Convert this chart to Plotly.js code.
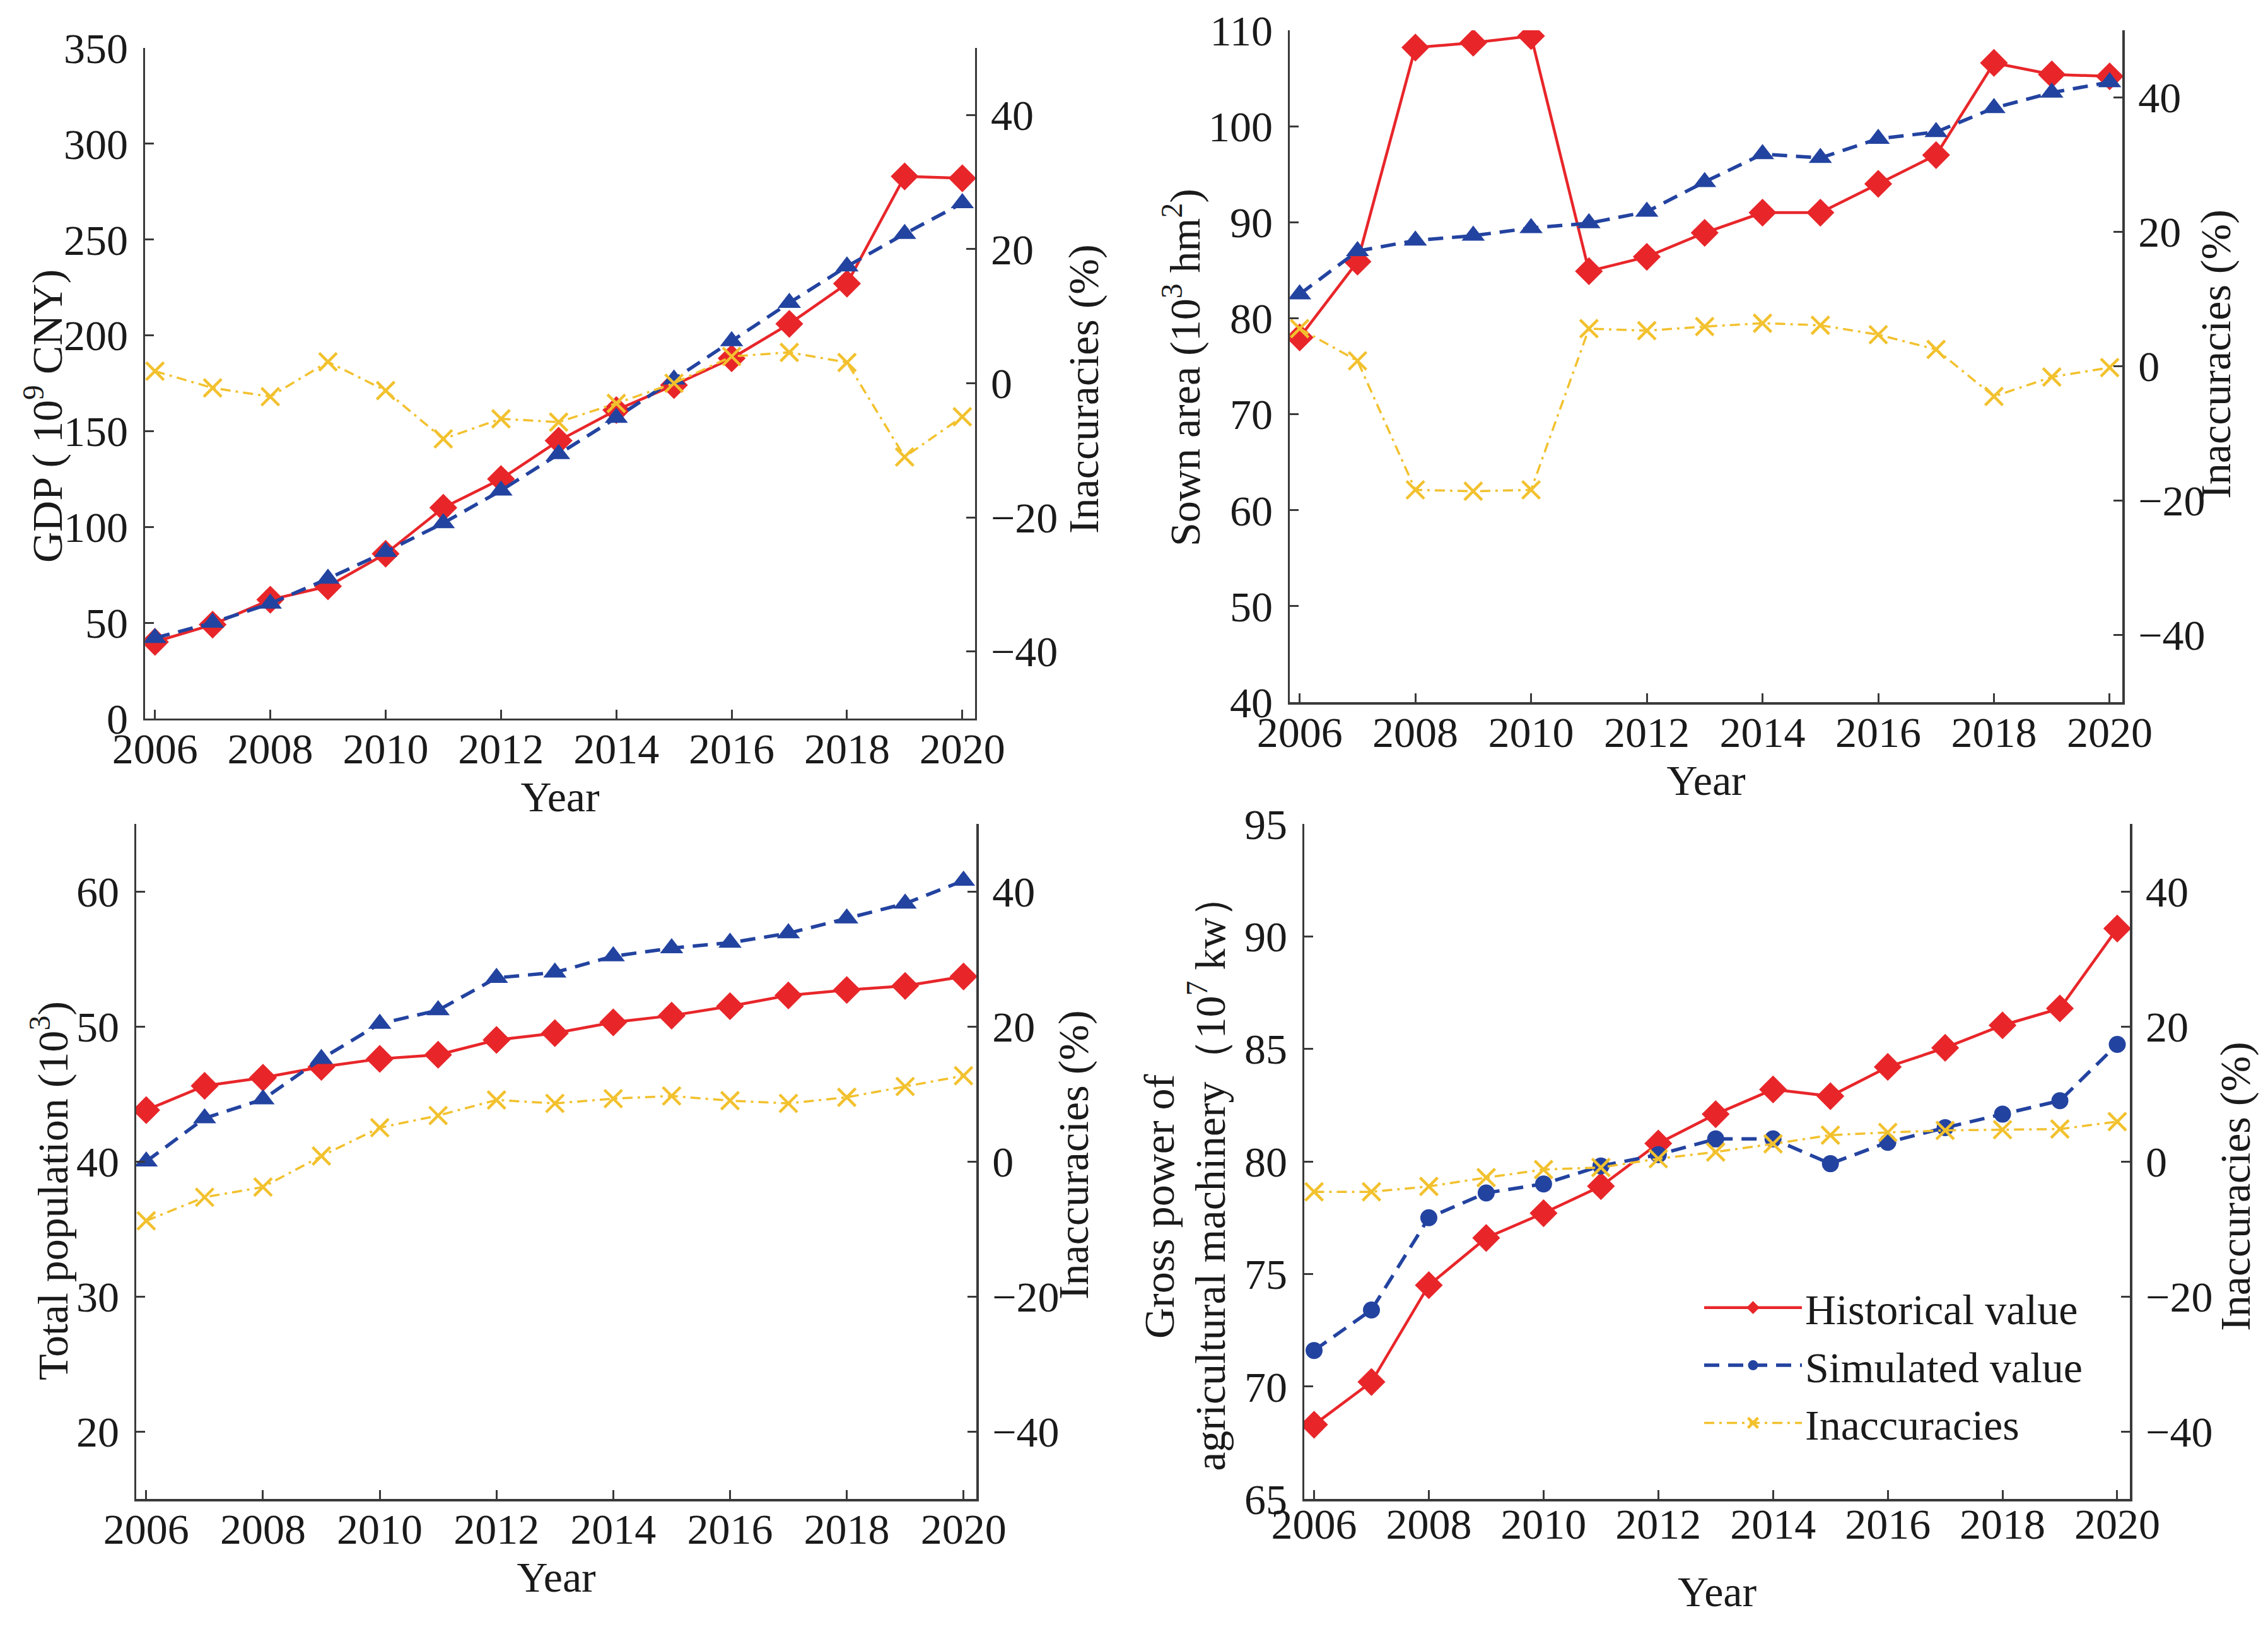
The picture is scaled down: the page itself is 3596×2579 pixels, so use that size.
<!DOCTYPE html>
<html>
<head>
<meta charset="utf-8">
<script src="https://cdn.plot.ly/plotly-3.0.1.min.js"></script>
<style>html,body{margin:0;padding:0;background:#fff;}#chart{width:3596px;height:2579px;}</style>
</head>
<body>
<div id="chart"></div>
<script>
const years = [2006,2007,2008,2009,2010,2011,2012,2013,2014,2015,2016,2017,2018,2019,2020];

const gdpHist = [40,49,62,69,86,110,125,145,161,174,188,206,227,283,282];
const gdpSim  = [42,50,60,73,87,102,119,138,157,177,197,217,236,253,269];
const gdpErr  = [1.8,-0.7,-2.0,3.2,-1.1,-8.3,-5.3,-5.8,-3.0,0,4.0,4.6,3.1,-11.0,-5.0];

const areaHist = [78.0,85.9,108.2,108.7,109.4,84.9,86.4,88.9,91.0,91.0,94.0,97.0,106.6,105.4,105.2];
const areaSim  = [82.5,87.0,88.1,88.6,89.4,89.9,91.1,94.2,97.1,96.7,98.7,99.4,101.9,103.5,104.6];
const areaErr  = [5.6,0.8,-18.4,-18.6,-18.4,5.6,5.3,5.9,6.4,6.1,4.7,2.5,-4.5,-1.6,-0.2];

const popHist = [43.8,45.6,46.2,47.0,47.6,47.9,49.0,49.5,50.3,50.8,51.5,52.3,52.7,53.0,53.7];
const popSim  = [40.0,43.2,44.6,47.6,50.2,51.2,53.6,54.0,55.2,55.8,56.2,56.9,58.0,59.1,60.8];
const popErr  = [-8.8,-5.3,-3.8,0.8,5.0,6.8,9.1,8.6,9.3,9.7,9.0,8.6,9.5,11.1,12.7];

const machHist = [68.3,70.2,74.5,76.6,77.7,78.9,80.8,82.1,83.2,82.9,84.2,85.05,86.05,86.8,90.35];
const machSim  = [71.6,73.4,77.5,78.6,79.0,79.8,80.3,81.0,81.0,79.9,80.85,81.5,82.1,82.7,85.2];
const machErr  = [-4.5,-4.5,-3.7,-2.4,-1.2,-0.9,0.4,1.4,2.6,3.9,4.3,4.6,4.7,4.8,5.9];

const seriesNames = ["Historical value","Simulated value","Inaccuracies"];
const xTitle = "Year";
const rightTitle = "Inaccuracies (%)";
const leftTitles = [
  "GDP ( 10<sup>9</sup> CNY)",
  "Sown area (10<sup>3</sup> hm<sup>2</sup>)",
  "Total population (10<sup>3</sup>)"
];
const machTitleLines = ["Gross power of", "agricultural machinery（10<sup>7</sup> kw）"];

const RED = "#e8262a", BLUE = "#2343a0", YEL = "#f2c12e";
const FONT = "Liberation Serif, Times New Roman, serif";
const FS = 68;
const AX = "#3a3a3a";
const TXT = "#1a1a1a";

const panels = [
  {hist: gdpHist, sim: gdpSim, err: gdpErr, simSym: "triangle-up", yr: [0,350], dt: 50,
   xd: [0.0640,0.4299], yd: [0.5584,0.9705], xls: -14, xts: 3,
   lt: [0.0195,0.7441], rt: [0.4778,0.7608]},
  {hist: areaHist, sim: areaSim, err: areaErr, simSym: "triangle-up", yr: [40,110], dt: 10,
   xd: [0.5687,0.9358], yd: [0.5684,0.9814], xls: -14, xts: 3,
   lt: [0.5214,0.7743], rt: [0.9769,0.7825]},
  {hist: popHist, sim: popSim, err: popErr, simSym: "triangle-up", yr: [15,65], dt: 10,
   xd: [0.0601,0.4305], yd: [0.0787,0.4936], xls: -14, xts: 3,
   lt: [0.0222,0.2683], rt: [0.4733,0.2904]},
  {hist: machHist, sim: machSim, err: machErr, simSym: "circle", yr: [65,95], dt: 5,
   xd: [0.5751,0.9391], yd: [0.0787,0.4936], xls: -22, xts: 46,
   lt: null, rt: [0.9855,0.2710]}
];

const data = [];
const annotations = [];
const layout = {
  width: 3596, height: 2579,
  margin: {l:0, r:0, t:0, b:0},
  paper_bgcolor: "#fff", plot_bgcolor: "rgba(0,0,0,0)",
  font: {family: FONT, size: FS, color: TXT},
  showlegend: true,
  legend: {x: 0.750, y: 0.216, xanchor: "left", yanchor: "top",
           bgcolor: "rgba(0,0,0,0)", font: {family: FONT, size: FS, color: TXT},
           itemwidth: 155, tracegroupgap: 0}
};

function vTitle(text, pos) {
  annotations.push({text: text, xref: "paper", yref: "paper", x: pos[0], y: pos[1],
    xanchor: "center", yanchor: "middle", textangle: -90, showarrow: false,
    font: {family: FONT, size: FS, color: TXT}});
}

panels.forEach((p, i) => {
  const n = i + 1;
  const xa = n === 1 ? "x" : "x" + n;
  const yl = 2*i + 1 === 1 ? "y" : "y" + (2*i + 1);
  const yr = "y" + (2*i + 2);
  const last = i === 3;
  data.push({x: years, y: p.hist, xaxis: xa, yaxis: yl, name: seriesNames[0], showlegend: last,
    mode: "lines+markers", line: {color: RED, width: 4.5},
    marker: {symbol: "diamond", size: 34, color: RED}});
  data.push({x: years, y: p.sim, xaxis: xa, yaxis: yl, name: seriesNames[1], showlegend: last,
    mode: "lines+markers", line: {color: BLUE, width: 5.5, dash: "24px,14px"},
    marker: {symbol: p.simSym, size: p.simSym === "circle" ? 27 : 32, color: BLUE}});
  data.push({x: years, y: p.err, xaxis: xa, yaxis: yr, name: seriesNames[2], showlegend: last,
    mode: "lines+markers", line: {color: YEL, width: 3.5, dash: "16px,8px,4px,8px"},
    marker: {symbol: "x-thin-open", size: 28, color: YEL, line: {color: YEL, width: 4.5}}});

  const xkey = n === 1 ? "xaxis" : "xaxis" + n;
  const ylkey = 2*i + 1 === 1 ? "yaxis" : "yaxis" + (2*i + 1);
  const yrkey = "yaxis" + (2*i + 2);
  const common = {showline: true, linecolor: AX, linewidth: 3.5, ticks: "inside", ticklen: 14,
    tickwidth: 3, tickcolor: AX, showgrid: false, zeroline: false,
    tickfont: {family: FONT, size: FS, color: TXT}};
  layout[xkey] = Object.assign({}, common, {
    domain: p.xd, anchor: yl, range: [2005.83, 2020.22],
    tickmode: "array", tickvals: [2006,2008,2010,2012,2014,2016,2018,2020],
    ticklabelstandoff: p.xls,
    title: {text: xTitle, font: {family: FONT, size: FS, color: TXT}, standoff: p.xts}
  });
  layout[ylkey] = Object.assign({}, common, {
    domain: p.yd, anchor: xa, range: p.yr, dtick: p.dt, tick0: 0, side: "left",
    ticklabelstandoff: 10
  });
  layout[yrkey] = Object.assign({}, common, {
    domain: p.yd, anchor: xa, overlaying: yl, side: "right", range: [-50, 50],
    tickmode: "array", tickvals: [-40,-20,0,20,40],
    ticklabelstandoff: 8
  });
  if (p.lt) vTitle(leftTitles[i], p.lt);
  vTitle(rightTitle, p.rt);
});

vTitle(machTitleLines[0], [0.5111, 0.2586]);
vTitle(machTitleLines[1], [0.5325, 0.2792]);

layout.annotations = annotations;
Plotly.newPlot("chart", data, layout, {staticPlot: true});
</script>
</body>
</html>
